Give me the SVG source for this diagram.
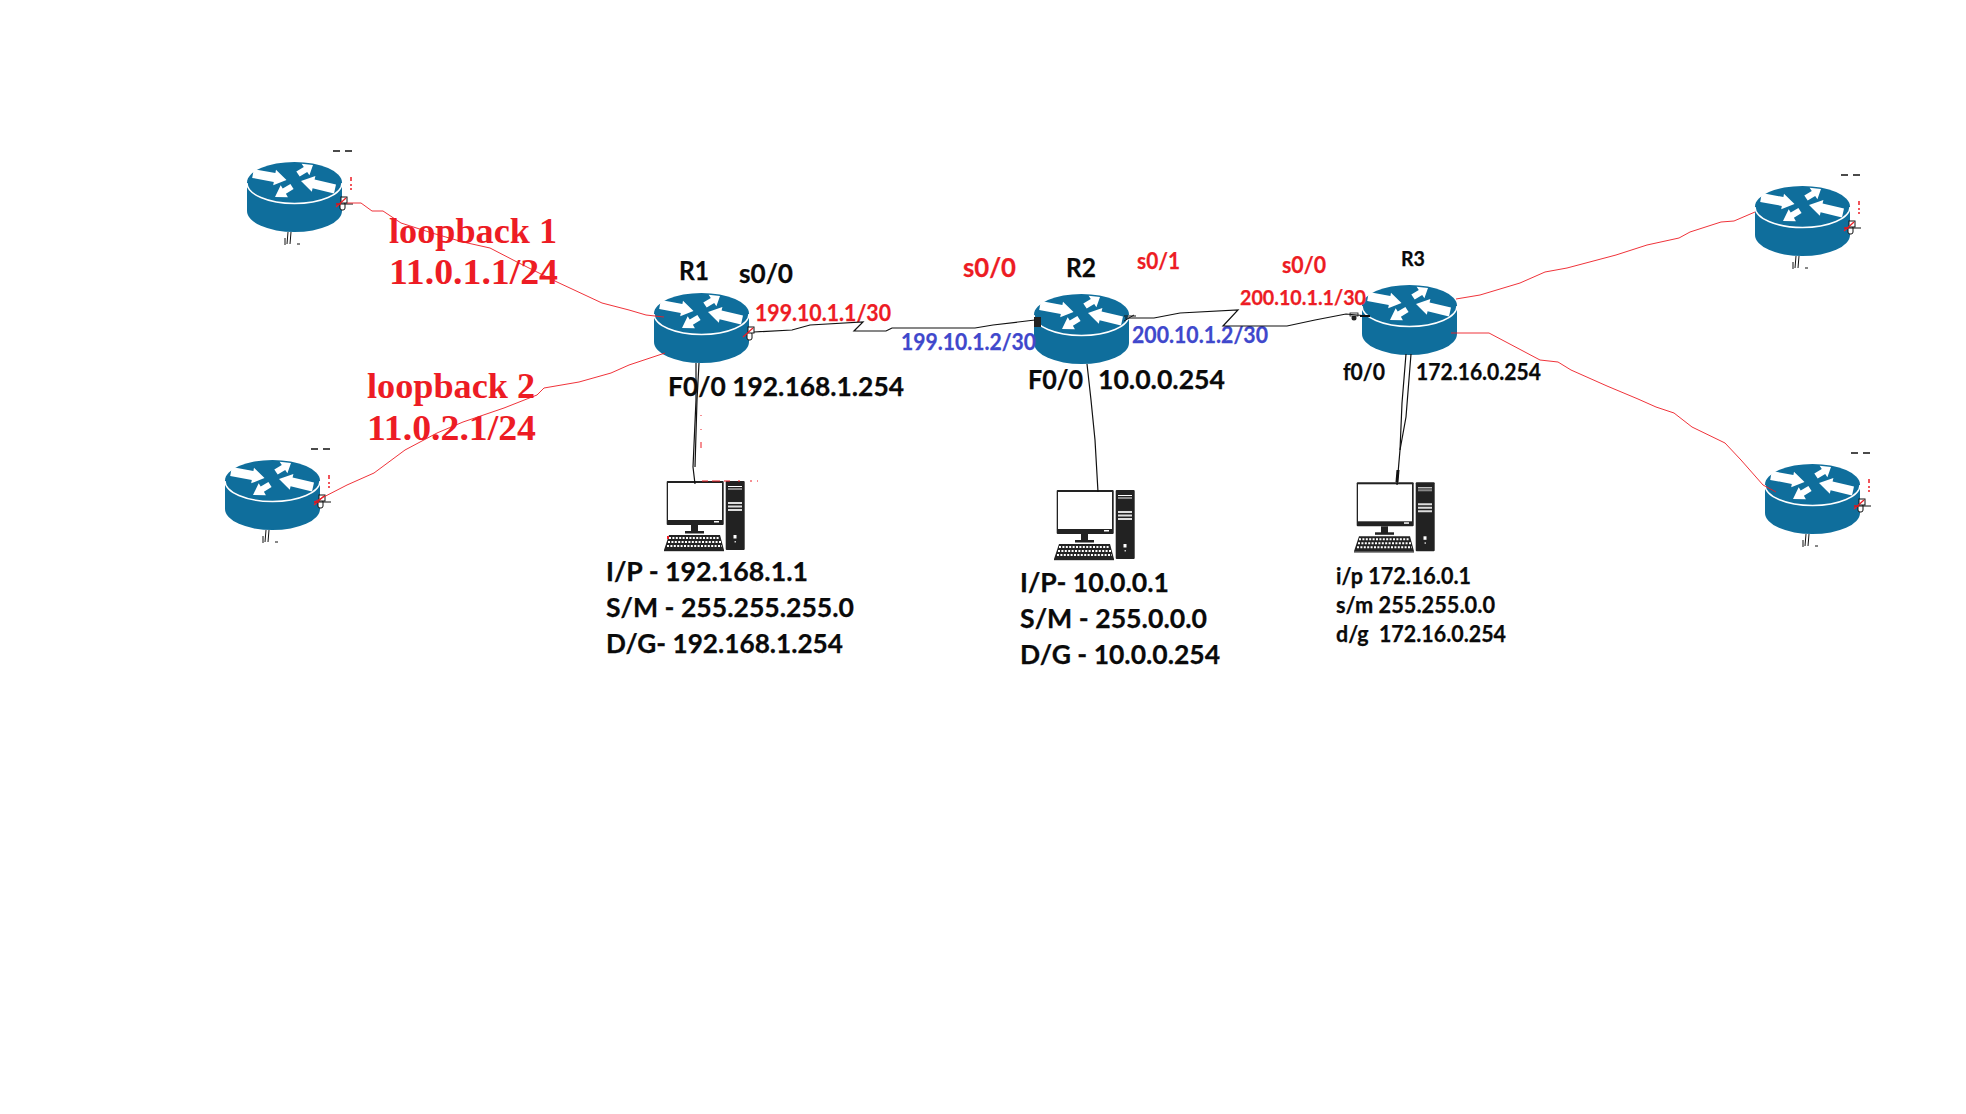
<svg xmlns="http://www.w3.org/2000/svg" width="1966" height="1114" viewBox="0 0 1966 1114">
<style>
text{font-family:Lato,"Liberation Sans",Arial,sans-serif;font-weight:700;fill:#0a0a0a;stroke:#0a0a0a;stroke-width:.25}
.red{fill:#ed1c24;stroke:#ed1c24}
.blue{fill:#3f48cc;stroke:#3f48cc}
.lb{font-family:"Liberation Serif","Times New Roman",serif;font-size:36px;fill:#ed1c24;stroke:none}
.s25{font-size:26px}
.s21{font-size:22px}
.rl{fill:none;stroke:#ed1c24;stroke-width:.9}
.bl{fill:none;stroke:#111;stroke-width:1.2}
</style>
<defs>
<g id="router">
<path fill="#0f6e9c" d="M0,20.500V49A47.500,21 0 0 0 95,49V20.500A47.500,20.500 0 0 0 0,20.500Z"/>
<path fill="none" stroke="#fff" stroke-width="1.500" d="M0,21A47.500,20.500 0 0 0 95,21"/>
<g fill="#fff">
<polygon points="5.200,15.900 6.800,7.100 28.400,11.100 29,7.700 39.500,18 26.200,23.300 26.800,19.900"/>
<polygon points="89,22.600 67.600,17.500 68.400,14.100 54,19 64.800,29.700 65.600,26.300 87,31.400"/>
<polygon points="52.700,14.500 60.200,10 62.400,13.300 66,3 54.600,1.700 56.800,5 49.300,9.500"/>
<polygon points="46.600,27 38.900,31.800 40.900,35.200 28,35 33.700,23.200 35.700,26.600 43.400,22"/>
</g>
</g>
<g id="port">
<rect x="0" y="5" width="5" height="8" rx="2" fill="#fff" stroke="#111" stroke-width="1"/>
<rect x="1" y="0" width="6" height="6" fill="#fff" stroke="#111" stroke-width="1"/>
<path d="M-4,10L6,1" fill="none" stroke="#ed1c24" stroke-width="1.300"/>
</g>
<g id="stub">
<path d="M86,-11h7M98,-11h7" stroke="#111" stroke-width="1.500" fill="none"/>
<path d="M104,15v4M104,22v2M104,26v2" stroke="#ed1c24" stroke-width="1.500" fill="none"/>
<use href="#port" x="93" y="35"/>
<path d="M89,42H106" stroke="#111" stroke-width="1" fill="none"/>
<path d="M89,42H94" stroke="#ed1c24" stroke-width="1.500" fill="none"/>
<path d="M38,83V76M41,70L40,82M44,70L43,82M50,82h3" stroke="#111" stroke-width="1" fill="none"/>
</g>
<g id="pc">
<rect x="6.700" y="11" width="57" height="44" rx="1" fill="#222"/>
<rect x="8" y="13" width="54" height="37" fill="#fff"/>
<rect x="54" y="51" width="5" height="1.500" fill="#fff"/>
<rect x="31" y="55" width="7" height="7" fill="#222"/>
<rect x="25" y="61" width="19" height="2.500" fill="#222"/>
<polygon points="9,65 60,65 64,80 4,80" fill="#222"/>
<rect x="4" y="80" width="60" height="1.200" fill="#222"/>
<path d="M9,68H60M8,72H61M7,76H62" stroke="#fff" stroke-width="2" stroke-dasharray="2 1.400" fill="none"/>
<rect x="65.700" y="11" width="19" height="69" rx="1" fill="#222"/>
<rect x="68" y="16" width="14" height="1" fill="#fff"/>
<rect x="68" y="18" width="14" height="2" fill="#888"/>
<path d="M68,33H82M68,36.500H82M68,40H82" stroke="#ddd" stroke-width="2" fill="none"/>
<rect x="73.500" y="65" width="3" height="3.500" fill="#fff"/>
<rect x="74.500" y="71" width="1.500" height="1.500" fill="#ccc"/>
</g>
</defs>
<rect width="1966" height="1114" fill="#fff"/>

<g id="node-lo1"><use href="#router" x="247" y="162"/><use href="#stub" x="247" y="162"/></g>
<g id="node-lo2"><use href="#router" x="225" y="460"/><use href="#stub" x="225" y="460"/></g>
<g id="node-r1"><use href="#router" x="654" y="293"/><use href="#port" x="747" y="327"/>
<text x="679" y="280" class="s25" textLength="30" lengthAdjust="spacingAndGlyphs">R1</text></g>
<g id="node-r2"><use href="#router" x="1034" y="294"/>
<rect x="1034" y="317" width="7" height="10" fill="#222"/><path d="M1124,321l10,-6M1124,316h12" stroke="#111" fill="none"/>
<text x="1066" y="277" class="s25" textLength="30" lengthAdjust="spacingAndGlyphs">R2</text></g>
<g id="node-r3"><use href="#router" x="1362" y="285"/>
<circle cx="1354" cy="318" r="2.500" fill="#222"/><rect x="1350" y="313" width="8" height="3" fill="#fff" stroke="#111" stroke-width=".8"/><path d="M1360,316h10" stroke="#111" stroke-width="2" fill="none"/>
<text x="1401" y="266" font-size="21" textLength="24" lengthAdjust="spacingAndGlyphs">R3</text></g>
<g id="node-lo3"><use href="#router" x="1755" y="186"/><use href="#stub" x="1755" y="186"/></g>
<g id="node-lo4"><use href="#router" x="1765" y="464"/><use href="#stub" x="1765" y="464"/></g>

<g id="node-pc1"><use href="#pc" x="660" y="470"/>
<path d="M702,481h6M712,481h8M724,481h6M738,481h2M750,481h2M757,481h1M701,415v1M701,429v1M701,442v6" stroke="#ed1c24" stroke-width="1" fill="none"/>
<rect x="667" y="536" width="2" height="3" fill="#ed1c24"/>
<text x="606" y="581" class="s25" textLength="202" lengthAdjust="spacingAndGlyphs">I/P - 192.168.1.1</text>
<text x="606" y="617" class="s25" textLength="248" lengthAdjust="spacingAndGlyphs">S/M - 255.255.255.0</text>
<text x="606" y="653" class="s25" textLength="237" lengthAdjust="spacingAndGlyphs">D/G- 192.168.1.254</text></g>
<g id="node-pc2"><use href="#pc" x="1050" y="479"/>
<text x="1020" y="592" class="s25" textLength="149" lengthAdjust="spacingAndGlyphs">I/P- 10.0.0.1</text>
<text x="1020" y="628" class="s25" textLength="187" lengthAdjust="spacingAndGlyphs">S/M - 255.0.0.0</text>
<text x="1020" y="664" class="s25" textLength="200" lengthAdjust="spacingAndGlyphs">D/G - 10.0.0.254</text></g>
<g id="node-pc3"><use href="#pc" x="1350" y="471.300"/>
<text x="1336" y="584" class="s21" textLength="135" lengthAdjust="spacingAndGlyphs">i/p 172.16.0.1</text>
<text x="1336" y="613" class="s21" textLength="159" lengthAdjust="spacingAndGlyphs">s/m 255.255.0.0</text>
<text x="1336" y="642" class="s21" textLength="170" lengthAdjust="spacingAndGlyphs" xml:space="preserve">d/g  172.16.0.254</text></g>

<g id="labels">
<text x="389" y="243" class="lb" textLength="168" lengthAdjust="spacingAndGlyphs">loopback 1</text>
<text x="389" y="284" class="lb" textLength="169" lengthAdjust="spacingAndGlyphs">11.0.1.1/24</text>
<text x="367" y="398" class="lb" textLength="168" lengthAdjust="spacingAndGlyphs">loopback 2</text>
<text x="367" y="440" class="lb" textLength="169" lengthAdjust="spacingAndGlyphs">11.0.2.1/24</text>
<text x="739" y="283" class="s25" textLength="54" lengthAdjust="spacingAndGlyphs">s0/0</text>
<text x="755" y="321" class="s21 red" textLength="136" lengthAdjust="spacingAndGlyphs">199.10.1.1/30</text>
<text x="901" y="350" class="s21 blue" textLength="135" lengthAdjust="spacingAndGlyphs">199.10.1.2/30</text>
<text x="963" y="277" class="s25 red" textLength="53" lengthAdjust="spacingAndGlyphs">s0/0</text>
<text x="1137" y="269" class="s21 red" textLength="43" lengthAdjust="spacingAndGlyphs">s0/1</text>
<text x="1282" y="273" class="s21 red" textLength="44" lengthAdjust="spacingAndGlyphs">s0/0</text>
<text x="1240" y="305" font-size="21" class="red" textLength="126" lengthAdjust="spacingAndGlyphs">200.10.1.1/30</text>
<text x="1132" y="343" class="s21 blue" textLength="136" lengthAdjust="spacingAndGlyphs">200.10.1.2/30</text>
<text x="668" y="396" class="s25" textLength="236" lengthAdjust="spacingAndGlyphs">F0/0 192.168.1.254</text>
<text x="1028" y="389" class="s25" textLength="55" lengthAdjust="spacingAndGlyphs">F0/0</text>
<text x="1098" y="389" class="s25" textLength="127" lengthAdjust="spacingAndGlyphs">10.0.0.254</text>
<text x="1343" y="380" class="s21" textLength="42" lengthAdjust="spacingAndGlyphs">f0/0</text>
<text x="1416" y="380" class="s21" textLength="125" lengthAdjust="spacingAndGlyphs">172.16.0.254</text>
</g>

<g id="connectors">
<polyline class="rl" points="347,203 361,203 372,211 383,211 401,223 432,233 463,242 490,248 517,262 557,282 602,303 629,310 646,315 664,317"/>
<polyline class="rl" points="665,353 629,365 611,373 579,382 544,388 537,395 504,408 463,422 437,433 405,450 374,473 347,485 314,502"/>
<polyline class="rl" points="1456,299 1480,295 1520,283 1545,272 1567,268 1616,255 1647,245 1679,238 1690,232 1721,222 1734,221 1755,212"/>
<polyline class="rl" points="1451,333 1489,333 1540,360 1558,362 1571,370 1607,386 1638,399 1656,407 1674,413 1692,427 1725,443 1741,460 1763,485 1776,492"/>
<polyline class="bl" points="754,332 792,330 810,325 863,322 854,331 886,331 892,328 975,328 993,325 1035,320"/>
<polyline class="bl" points="1125,318 1154,318 1180,313 1238,310 1223,326 1287,326 1315,320 1346,314 1368,316"/>
<polyline class="bl" points="696,363 696,400 693,467 695,484"/>
<polyline class="bl" points="699,363 697,400 695,467"/>
<polyline class="bl" points="1087,364 1091,400 1095,440 1098,492"/>
<polyline class="bl" points="1406,354 1402,403 1400,450 1397,485"/>
<polyline class="bl" points="1411,354 1406,417 1400,450"/>
<path d="M1398,470L1397,482" stroke="#111" stroke-width="3" fill="none"/>
</g>
</svg>
